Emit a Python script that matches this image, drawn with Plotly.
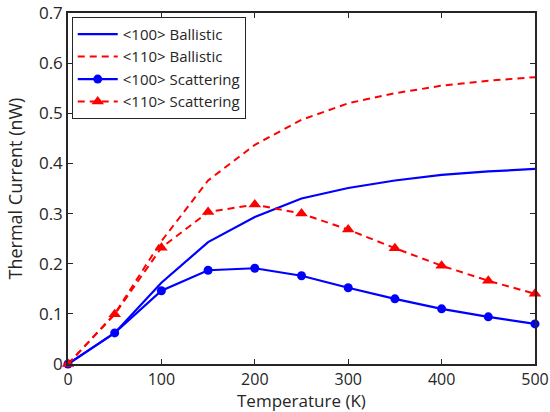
import plotly.graph_objects as go

# Temperature grid (K)
temperature = [0, 50, 100, 150, 200, 250, 300, 350, 400, 450, 500]

# Thermal current (nW) for each transport direction / regime
ballistic_100 = [0.0, 0.062, 0.162, 0.243, 0.293, 0.330, 0.351, 0.366, 0.377, 0.384, 0.389]
ballistic_110 = [0.0, 0.100, 0.245, 0.366, 0.437, 0.487, 0.520, 0.540, 0.555, 0.565, 0.572]
scattering_100 = [0.0, 0.062, 0.146, 0.187, 0.191, 0.176, 0.152, 0.130, 0.110, 0.094, 0.080]
scattering_110 = [0.0, 0.099, 0.232, 0.303, 0.318, 0.300, 0.268, 0.231, 0.196, 0.166, 0.140]

x_ticks = [0, 100, 200, 300, 400, 500]
y_ticks = [0, 0.1, 0.2, 0.3, 0.4, 0.5, 0.6, 0.7]
y_tick_labels = ["0", "0.1", "0.2", "0.3", "0.4", "0.5", "0.6", "0.7"]

X_TITLE = "Temperature (K)"
Y_TITLE = "Thermal Current (nW)"

BLUE = "#0000ff"
RED = "#ff0000"
FONT = "Open Sans"
INK = "#262626"

fig = go.Figure()
fig.add_trace(go.Scatter(
    x=temperature, y=ballistic_100, name="<100> Ballistic", mode="lines",
    line=dict(color=BLUE, width=2.2), cliponaxis=False))
fig.add_trace(go.Scatter(
    x=temperature, y=ballistic_110, name="<110> Ballistic", mode="lines",
    line=dict(color=RED, width=2, dash="7px,5px"), cliponaxis=False))
fig.add_trace(go.Scatter(
    x=temperature, y=scattering_100, name="<100> Scattering", mode="lines+markers",
    line=dict(color=BLUE, width=2.2),
    marker=dict(symbol="circle", size=9, color=BLUE), cliponaxis=False))
fig.add_trace(go.Scatter(
    x=temperature, y=scattering_110, name="<110> Scattering", mode="lines+markers",
    line=dict(color=RED, width=2, dash="7px,5px"),
    marker=dict(symbol="triangle-up", size=11, color=RED), cliponaxis=False))

axis_common = dict(
    showgrid=False, zeroline=False, showline=True, linecolor=INK, linewidth=1.5,
    mirror="ticks", ticks="inside", ticklen=5, tickwidth=1, tickcolor=INK,
    automargin=False, ticklabeloverflow="allow",
)

fig.update_layout(
    width=550, height=412,
    margin=dict(l=68, r=15, t=13, b=48),
    paper_bgcolor="white", plot_bgcolor="white",
    font=dict(family=FONT, color=INK),
    xaxis=dict(range=[0, 500], tickvals=x_ticks,
               tickfont=dict(family=FONT, size=16, color=INK), **axis_common),
    yaxis=dict(range=[0, 0.7], tickvals=y_ticks, ticktext=y_tick_labels,
               tickfont=dict(family=FONT, size=17, color=INK), **axis_common),
    legend=dict(x=0.008, y=0.989, xanchor="left", yanchor="top",
                bgcolor="white", bordercolor=INK, borderwidth=1,
                font=dict(family=FONT, size=15, color=INK),
                tracegroupgap=0, itemwidth=40),
    showlegend=True,
)

# Axis titles placed as annotations so they sit snugly under/left of the tick labels
fig.add_annotation(text=X_TITLE, xref="paper", yref="paper", x=0.5, y=0,
                   xanchor="center", yanchor="bottom", yshift=-49, showarrow=False,
                   borderpad=0, font=dict(family=FONT, size=17, color=INK))
fig.add_annotation(text=Y_TITLE, xref="paper", yref="paper", x=0, y=0.5,
                   xanchor="left", yanchor="middle", xshift=-68, textangle=-90,
                   showarrow=False, font=dict(family=FONT, size=18, color=INK))

fig.write_html("out.html")
